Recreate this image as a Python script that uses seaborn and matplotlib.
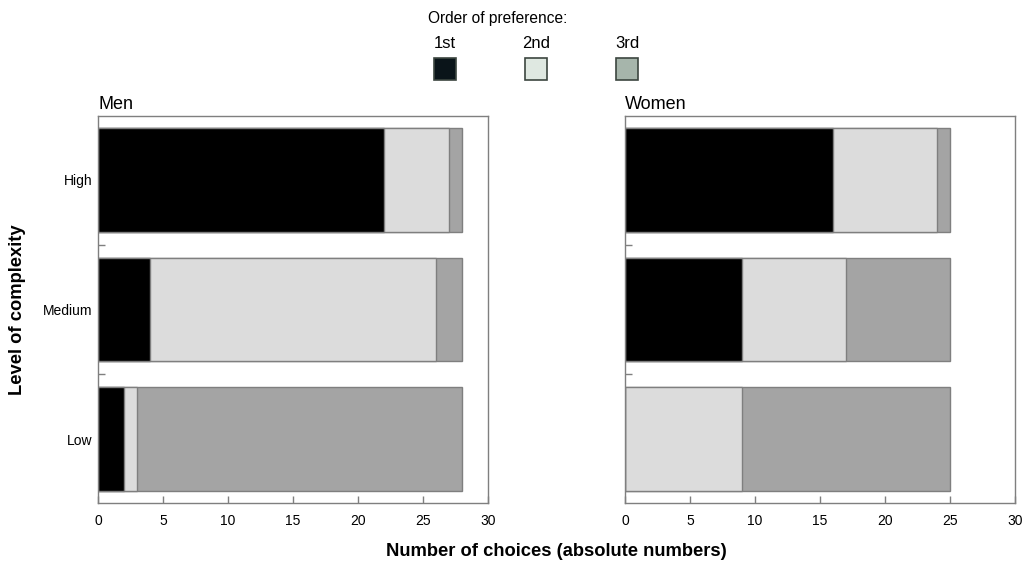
import pandas as pd
import numpy as np
import matplotlib
matplotlib.use("Agg")
import matplotlib.pyplot as plt
from matplotlib.patches import Rectangle
from matplotlib.ticker import FixedLocator
import seaborn as sns

# data ---------------------------------------------------------------
levels = ["High", "Medium", "Low"]
prefs = ["1st", "2nd", "3rd"]
men_1st = [22, 4, 2]
men_2nd = [5, 22, 1]
men_3rd = [1, 2, 25]
women_1st = [16, 9, 0]
women_2nd = [8, 8, 9]
women_3rd = [1, 8, 16]

bar_colors = ["#000000", "#dcdcdc", "#a4a4a4"]
legend_colors = ["#0a1419", "#dfe8e1", "#a6b5ab"]
edge_gray = "#7f7f7f"

sns.set_style("white")
plt.rcParams["font.family"] = ["Liberation Sans", "DejaVu Sans"]
plt.rcParams["text.color"] = "black"
plt.rcParams["xtick.color"] = edge_gray
plt.rcParams["ytick.color"] = edge_gray
plt.rcParams["xtick.labelcolor"] = "black"
plt.rcParams["ytick.labelcolor"] = "black"
plt.rcParams["axes.titlecolor"] = "black"

fig = plt.figure(figsize=(10.24, 5.70), dpi=100)
ax_men = fig.add_axes([98 / 1024, 1 - 503 / 570, 390 / 1024, 387 / 570])
ax_women = fig.add_axes([625 / 1024, 1 - 503 / 570, 390 / 1024, 387 / 570])


def stacked(ax, first, second, third, title, show_labels):
    df = pd.DataFrame({"level": levels, "first": first, "second": second, "third": third})
    df["c2"] = df["first"] + df["second"]
    df["c3"] = df["c2"] + df["third"]
    # draw cumulative totals from the back to the front
    for col, color in zip(["c3", "c2", "first"], bar_colors[::-1]):
        sns.barplot(data=df, x=col, y="level", order=levels, color=color,
                    edgecolor=edge_gray, linewidth=1, width=0.8, saturation=1, ax=ax)
    ax.set_xlim(0, 30)
    ax.set_ylim(2.49, -0.49)
    ax.set_xticks([0, 5, 10, 15, 20, 25, 30])
    ax.set_xlabel("")
    ax.set_ylabel("")
    ax.set_title(title, loc="left", fontsize=13, pad=5)
    ax.yaxis.set_minor_locator(FixedLocator([0.5, 1.5]))
    ax.tick_params(axis="x", which="major", direction="in", length=5, width=1,
                   labelsize=10, pad=8, bottom=True)
    ax.tick_params(axis="y", which="major", length=0, labelsize=10, pad=4)
    ax.tick_params(axis="y", which="minor", direction="in", length=5, width=1, left=True)
    if not show_labels:
        ax.set_yticklabels([])
    for sp in ax.spines.values():
        sp.set_visible(True)
        sp.set_color(edge_gray)
        sp.set_linewidth(1)


stacked(ax_men, men_1st, men_2nd, men_3rd, "Men", True)
stacked(ax_women, women_1st, women_2nd, women_3rd, "Women", False)

fig.text(556 / 1024, 1 - 551 / 570, "Number of choices (absolute numbers)",
         ha="center", va="center", fontsize=13.2, fontweight="bold")
fig.text(18 / 1024, 1 - 310 / 570, "Level of complexity", rotation=90,
         ha="center", va="center", fontsize=13.2, fontweight="bold")

# legend on top: title, labels above squares
fig.text(498 / 1024, 1 - 18 / 570, "Order of preference:", ha="center", va="center", fontsize=11.2)
for i, (lab, col) in enumerate(zip(prefs, legend_colors)):
    cx = (445 + 91 * i) / 1024
    fig.text(cx, 1 - 43 / 570, lab, ha="center", va="center", fontsize=12)
    w, h = 22 / 1024, 22 / 570
    fig.add_artist(Rectangle((cx - w / 2, 1 - 80 / 570), w, h, transform=fig.transFigure,
                             facecolor=col, edgecolor="#3c4640", linewidth=1.2))

fig.savefig("out.png", dpi=100)
